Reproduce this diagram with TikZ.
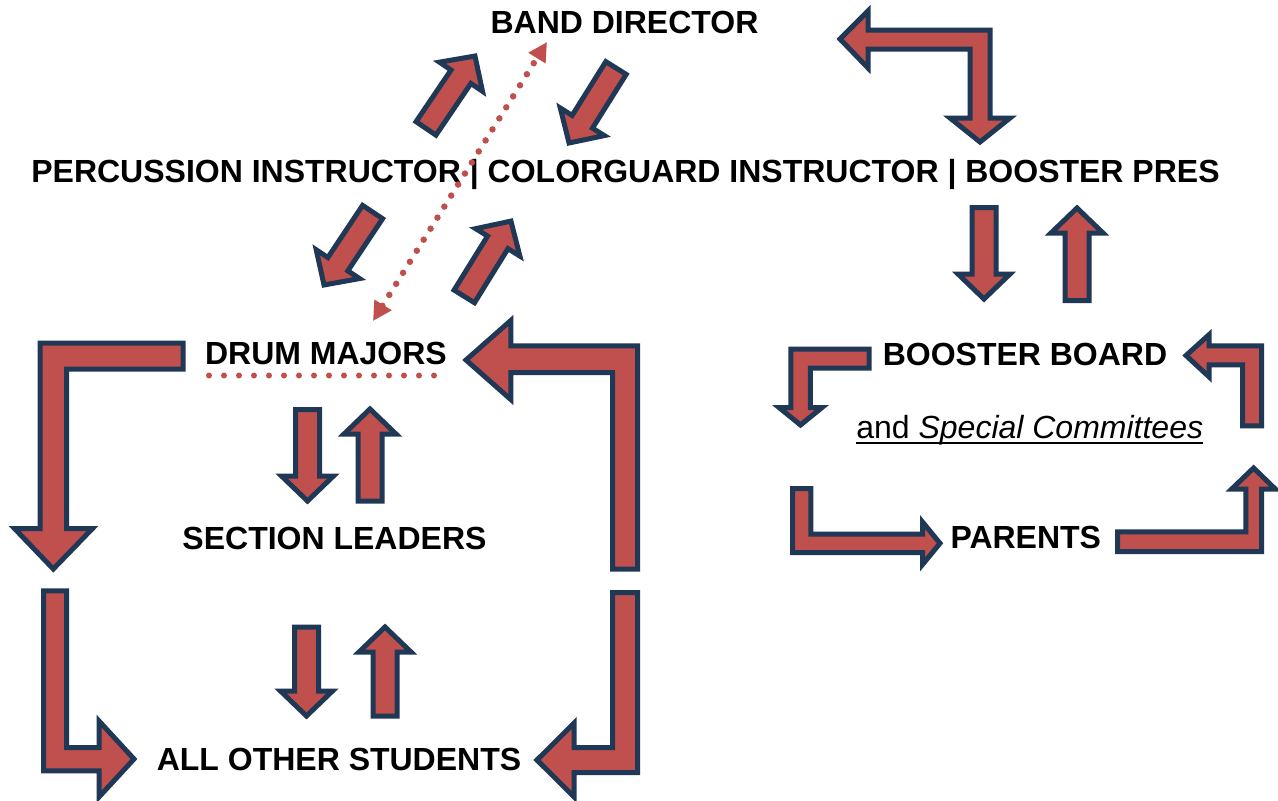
\documentclass[tikz,border=0pt]{standalone}
\usepackage{fontspec}
\setmainfont{Liberation Sans}
\usetikzlibrary{arrows.meta,calc}
\definecolor{arrred}{HTML}{C0504D}
\definecolor{arrnavy}{HTML}{1F3856}
\def\bashaft{12}
\def\bahead{26}
\def\balenh{25}
\newcommand\blockarr[2]{%
  \pgfpointdiff{\pgfpointanchor{#1}{center}}{\pgfpointanchor{#2}{center}}%
  \pgfgetlastxy{\badx}{\bady}%
  \pgfmathsetmacro\balen{veclen(\badx,\bady)}%
  \pgfmathsetmacro\baang{atan2(\bady,\badx)}%
  \draw[blockarrow, shift={(#1)}, rotate=\baang]
    (0,\bashaft) -- ({\balen-\balenh},\bashaft) -- ({\balen-\balenh},\bahead) -- (\balen,0)
    -- ({\balen-\balenh},-\bahead) -- ({\balen-\balenh},-\bashaft) -- (0,-\bashaft) -- cycle;
}
\begin{document}
\begin{tikzpicture}[x=1pt,y=-1pt,
  blockarrow/.style={fill=arrred, draw=arrnavy, line width=5pt, line join=miter},
  lbl/.style={font=\fontsize{32}{38}\selectfont\bfseries, inner sep=0pt, anchor=base},
  plainlbl/.style={font=\fontsize{32}{38}\selectfont, inner sep=0pt, anchor=base},
  dotline/.style={draw=arrred, line width=6.5pt, line cap=round, dash pattern=on 0pt off 13pt},
  dottip/.style={Triangle[length=19pt,width=19pt]}
]
\useasboundingbox (0,0) rectangle (1278,801);
\fill[white] (0,0) rectangle (1278,801);

% labels
\node[lbl] (bd) at (624.5,33) {BAND DIRECTOR};
\node[lbl] (inst) at (625.5,182) {PERCUSSION INSTRUCTOR | COLORGUARD INSTRUCTOR | BOOSTER PRES};
\node[lbl] (dm) at (326,364) {DRUM MAJORS};
\node[lbl] (sl) at (334.5,549) {SECTION LEADERS};
\node[lbl] (aos) at (339,770) {ALL OTHER STUDENTS};
\node[lbl] (bb) at (1025,365) {BOOSTER BOARD};
\node[plainlbl] (sc) at (1029.7,438.5) {and \textit{Special Committees}};
\node[lbl] (par) at (1025.8,548.5) {PARENTS};
\draw[line width=1.6pt] ([yshift=-4.5pt]sc.base west) -- ([yshift=-4.5pt]sc.base east);

% straight block arrows
\coordinate (a1) at (426,128.4); \coordinate (a2) at (475,56);
\coordinate (b1) at (616,68);    \coordinate (b2) at (569,143);
\coordinate (c1) at (372.6,212); \coordinate (c2) at (324,285);
\coordinate (d1) at (464.3,296.4); \coordinate (d2) at (511,221);
\blockarr{a1}{a2}
\blockarr{b1}{b2}
\blockarr{c1}{c2}
\blockarr{d1}{d2}

\coordinate (e1) at (307.5,409.5); \coordinate (e2) at (307.5,501);
\coordinate (f1) at (370,501);     \coordinate (f2) at (370,409);
\coordinate (g1) at (306.5,627);   \coordinate (g2) at (306.5,716);
\coordinate (h1) at (385,716);     \coordinate (h2) at (385,627);
\coordinate (i1) at (984,207.5);   \coordinate (i2) at (984,299);
\coordinate (j1) at (1077,300.5);  \coordinate (j2) at (1077,208);
\blockarr{e1}{e2}
\blockarr{f1}{f2}
\blockarr{g1}{g2}
\blockarr{h1}{h2}
\blockarr{i1}{i2}
\blockarr{j1}{j2}

% bent arrows
\draw[blockarrow] (840,39) -- (868,11) -- (868,30) -- (990,30) -- (990,118) -- (1010,118)
  -- (980,142) -- (950,118) -- (970,118) -- (970,49) -- (868,49) -- (868,68) -- cycle;

\draw[blockarrow] (183.2,343.2) -- (40.2,343.2) -- (40.2,528.5) -- (14.5,528.5) -- (53.3,569)
  -- (92.5,528.5) -- (66.5,528.5) -- (66.5,369.2) -- (183.2,369.2) -- cycle;
\draw[blockarrow] (43.5,590.8) -- (66.5,590.8) -- (66.5,747.5) -- (99,747.5) -- (99,721)
  -- (134,759) -- (99,797) -- (99,770.8) -- (43.5,770.8) -- cycle;
\draw[blockarrow] (612.5,569.2) -- (637.5,569.2) -- (637.5,345.8) -- (510.8,345.8) -- (510.8,320.5)
  -- (466,360) -- (510.8,399.5) -- (510.8,372.5) -- (612.5,372.5) -- cycle;
\draw[blockarrow] (612.5,592.5) -- (637.5,592.5) -- (637.5,772.5) -- (574.2,772.5) -- (574.2,797)
  -- (537,760) -- (574.2,723) -- (574.2,747.5) -- (612.5,747.5) -- cycle;

\draw[blockarrow] (869.2,349.2) -- (790.8,349.2) -- (790.8,407.5) -- (779,407.5) -- (800.5,425)
  -- (822,407.5) -- (810.3,407.5) -- (810.3,368.2) -- (869.2,368.2) -- cycle;
\draw[blockarrow] (1242.5,425.8) -- (1261.5,425.8) -- (1261.5,345.8) -- (1209.2,345.8) -- (1209.2,334.5)
  -- (1186,355.5) -- (1209.2,377) -- (1209.2,364.8) -- (1242.5,364.8) -- cycle;
\draw[blockarrow] (792.5,488.5) -- (810.8,488.5) -- (810.8,534.2) -- (922.5,534.2) -- (922.5,522)
  -- (940,543.3) -- (922.5,564.5) -- (922.5,552.5) -- (792.5,552.5) -- cycle;
\draw[blockarrow] (1117.5,531.8) -- (1245.8,531.8) -- (1245.8,489.2) -- (1231.5,489.2) -- (1253.6,468)
  -- (1275.5,489.2) -- (1261.5,489.2) -- (1261.5,551.5) -- (1117.5,551.5) -- cycle;

% dotted connectors
\coordinate (dd1) at (373,321); \coordinate (dd2) at (547,42);
\draw[dotline, {Triangle[length=19pt,width=19pt]}-{Triangle[length=19pt,width=19pt]}] (dd1) -- (dd2);
\coordinate (hd1) at (209,375.5); \coordinate (hd2) at (434,375.5);
\draw[dotline, line width=6pt, dash pattern=on 0pt off 15pt] (hd1) -- (hd2);
\end{tikzpicture}
\end{document}
